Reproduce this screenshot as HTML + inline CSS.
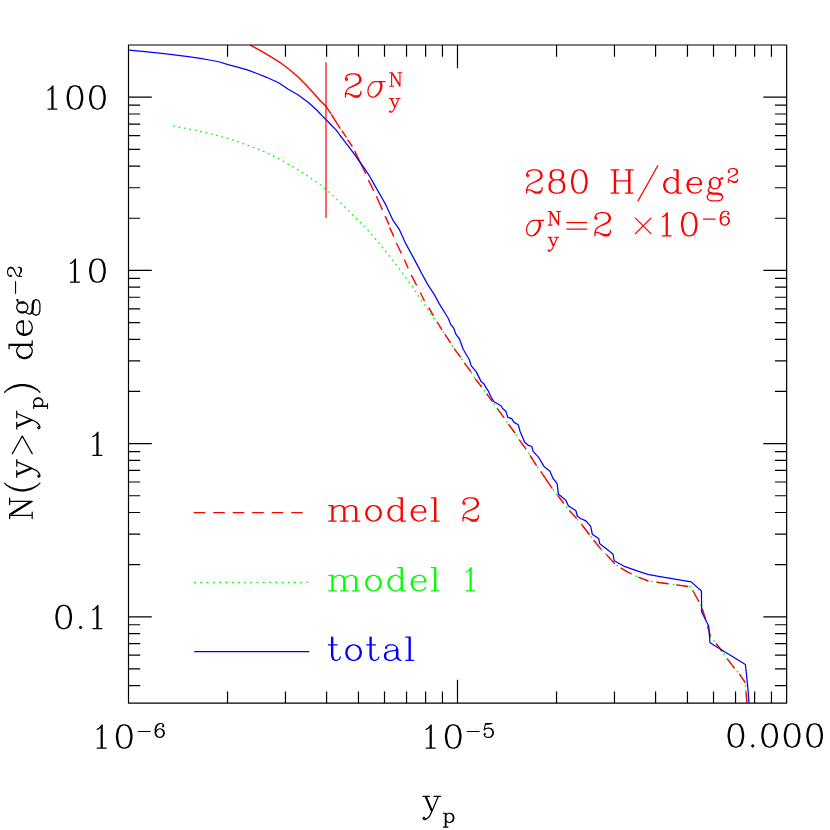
<!DOCTYPE html><html><head><meta charset="utf-8"><title>N(y&gt;y_p)</title><style>html,body{margin:0;padding:0;background:#fff;overflow:hidden;font-family:"Liberation Sans",sans-serif}svg{display:block}</style></head><body><svg width="830" height="830" viewBox="0 0 830 830"><title>N(y&gt;y_p) deg^-2 versus y_p: model 2, model 1, total; 280 H/deg^2, sigma_y^N=2 x10^-6</title><rect width="830" height="830" fill="#fff"/><path d="M173.2 125.9L183.4 128.0L195.5 130.4L203.3 132.2L214.7 134.9L225.6 137.8L234.6 140.5L244.3 143.9L256.3 148.6L264.8 151.9L273.2 155.9L284.0 161.6L294.9 168.0L305.7 174.8L316.6 182.0L320.0 184.7L326.0 189.6L331.2 193.9L342.0 204.1L354.1 216.1L366.1 228.2L378.2 242.0L390.2 257.1L398.7 268.0L403.4 274.5L411.9 285.9L420.3 298.6L426.9 308.4L432.2 316.4L437.0 322.3L442.0 329.9L444.8 334.1L450.6 343.0L454.2 348.7L460.7 357.4L464.3 362.9L470.9 371.9L475.1 378.6L481.7 387.0L486.6 393.6L492.6 402.0L497.4 408.7L504.0 417.7L508.5 424.2L515.0 433.0L519.3 439.9L525.9 448.9L530.1 455.5L536.7 465.8L541.0 471.8L552.4 488.7L557.6 495.3L563.8 503.3L569.3 510.4L576.7 518.6L581.7 524.5L589.5 534.8L593.7 540.2L601.0 549.2L606.4 554.6L614.8 563.7L620.8 567.9L626.0 571.2L631.1 573.6L634.5 575.5L638.3 577.2L648.5 581.0L656.7 582.2L668.3 583.7L676.1 584.9L688.2 586.5L691.2 586.9L693.0 591.0L699.0 601.8L702.2 608.8L705.7 619.2L707.5 626.4L710.5 636.3L711.0 637.6L716.2 643.5L722.3 651.5L727.3 658.8L734.6 668.4L739.4 673.9L745.4 682.9L745.6 684.5L746.0 691.9L746.9 702.6" fill="none" stroke="#00ff00" stroke-width="1.3" stroke-dasharray="1.7 3.8" stroke-linejoin="round"/><path d="M250.3 45.1L260.5 50.6L270.2 56.3L279.8 62.3L289.4 69.5L297.9 76.7L305.1 84.0L312.3 91.8L319.6 100.0L325.9 106.2L330.9 113.9" fill="none" stroke="#ff0000" stroke-width="1.4" stroke-linejoin="round"/><path d="M331.3 114.5L340.4 128.6L341.9 130.7L346.4 137.3L347.6 139.7L352.4 146.5L354.6 150.9L365.8 173.8L368.4 180.0L373.6 190.6L376.4 196.3L382.4 210.1L385.1 216.1L389.0 224.6L389.7 227.6L393.9 236.6L396.3 242.7L401.4 253.5L404.3 259.5L408.2 268.2L411.3 275.1L416.7 285.5L420.3 292.5L424.5 301.0L428.7 307.6L433.6 316.0L437.2 322.0L442.0 329.9L444.8 334.1L450.6 343.0L454.2 348.7L460.7 357.4L464.3 362.9L470.9 371.9L475.1 378.6L481.7 387.0L486.6 393.6L492.6 402.0L497.4 408.7L504.0 417.7L508.5 424.2L515.0 433.0L519.3 439.9L525.9 448.9L530.1 455.5L536.7 465.8L541.0 471.8L552.4 488.7L557.6 495.3L563.8 503.3L569.3 510.4L576.7 518.6L581.7 524.5L589.5 534.8L593.7 540.2L601.0 549.2L606.4 554.6L614.8 563.7L620.8 567.9L626.0 571.2L631.1 573.6L634.5 575.5L638.3 577.2L648.5 581.0L656.7 582.2L668.3 583.7L676.1 584.9L688.2 586.5L691.2 586.9L693.0 591.0L699.0 601.8L702.2 608.8L705.7 619.2L707.5 626.4L710.5 636.3L711.0 637.6L716.2 643.5L722.3 651.5L727.3 658.8L734.6 668.4L739.4 673.9L745.4 682.9L745.6 684.5L746.0 691.9L746.9 702.6" fill="none" stroke="#ff0000" stroke-width="1.4" stroke-dasharray="16.78 2.58 7.99 2.68 8.32 4.92 25.49 6.72 11.81 6.35 15.05 6.58 9.35 3.08 9.93 6.56 11.94 6.66 9.53 7.56 11.72 7.87 9.48 7.82 9.72 7.00 9.24 5.05 10.62 6.74 10.86 6.57 11.16 7.91 10.68 8.22 10.32 8.24 11.16 7.91 10.94 8.13 11.16 7.82 12.23 7.38 20.39 8.40 10.12 8.98 11.05 7.73 12.92 6.84 11.59 7.64 12.38 7.32 11.80 8.06 10.88 8.29 11.70 7.89 12.21 7.50 12.35 7.70 10.97 7.42 10.34 9.26 10.06 8.85 12.06 7.30 10.82 9.02 10.74 50.00" stroke-linejoin="round"/><path d="M128.6 50.2L140.0 51.1L152.1 52.3L164.1 53.6L176.2 55.1L188.2 56.6L200.3 58.3L212.3 60.5L219.6 62.0L228.0 64.6L237.6 67.1L247.3 69.8L256.9 73.5L266.6 77.3L278.6 82.8L288.2 89.2L297.9 94.8L308.7 102.7L317.2 110.5L322.0 115.6L325.9 119.5L331.0 124.7L336.5 130.4L340.1 135.5L343.3 139.7L348.7 146.7L354.5 154.4L359.9 162.1L364.6 168.6L369.6 176.2L374.0 184.1L378.2 191.4L383.0 199.7L385.4 204.1L392.7 219.8L399.3 229.4L405.9 243.9L413.1 257.1L419.2 268.6L420.9 272.0L427.5 284.1L434.2 294.3L439.0 303.4L445.0 313.0L448.6 319.0L450.4 323.9L454.0 328.7L455.8 334.1L459.5 339.0L463.1 349.0L469.1 359.3L471.3 365.9L476.3 371.9L481.1 381.6L483.6 383.4L486.0 387.6L488.4 391.2L491.4 397.8L494.4 402.0L501.0 405.7L502.8 408.7L505.8 411.1L507.7 417.1L511.9 418.9L513.8 422.1L518.2 424.7L520.1 431.5L524.7 442.3L528.3 445.3L531.9 446.5L533.1 451.3L538.6 457.3L544.0 466.4L550.0 471.2L553.0 478.4L557.2 483.9L558.4 494.1L565.8 500.2L568.5 506.0L575.8 510.5L577.3 516.0L580.1 518.2L585.9 520.9L590.7 526.3L592.3 534.2L598.6 538.4L599.8 543.8L613.0 554.0L614.2 560.7L625.1 566.7L637.1 570.9L647.8 574.3L660.0 576.6L691.2 581.9L701.4 591.0L701.7 612.0L708.7 626.0L710.0 642.7L745.4 664.5L747.8 687.1L749.0 702.7" fill="none" stroke="#0000ff" stroke-width="1.25" stroke-linejoin="round"/><path d="M326 62.3V218.1" stroke="#ff0000" stroke-width="1.2" fill="none"/><path d="M128.5 45.0H786.65V703.1H128.5ZM227.54 703.1v-11.7M227.54 45.0v11.7M285.47 703.1v-11.7M285.47 45.0v11.7M326.58 703.1v-11.7M326.58 45.0v11.7M358.46 703.1v-11.7M358.46 45.0v11.7M384.51 703.1v-11.7M384.51 45.0v11.7M406.54 703.1v-11.7M406.54 45.0v11.7M425.62 703.1v-11.7M425.62 45.0v11.7M442.45 703.1v-11.7M442.45 45.0v11.7M457.50 703.1v-23.3M457.50 45.0v23.3M556.54 703.1v-11.7M556.54 45.0v11.7M614.47 703.1v-11.7M614.47 45.0v11.7M655.58 703.1v-11.7M655.58 45.0v11.7M687.46 703.1v-11.7M687.46 45.0v11.7M713.51 703.1v-11.7M713.51 45.0v11.7M735.54 703.1v-11.7M735.54 45.0v11.7M754.62 703.1v-11.7M754.62 45.0v11.7M771.45 703.1v-11.7M771.45 45.0v11.7M128.5 685.72h11.7M786.65 685.72h-11.7M128.5 668.94h11.7M786.65 668.94h-11.7M128.5 655.22h11.7M786.65 655.22h-11.7M128.5 643.63h11.7M786.65 643.63h-11.7M128.5 633.58h11.7M786.65 633.58h-11.7M128.5 624.73h11.7M786.65 624.73h-11.7M128.5 616.80h23.3M786.65 616.80h-23.3M128.5 564.66h11.7M786.65 564.66h-11.7M128.5 534.16h11.7M786.65 534.16h-11.7M128.5 512.52h11.7M786.65 512.52h-11.7M128.5 495.74h11.7M786.65 495.74h-11.7M128.5 482.02h11.7M786.65 482.02h-11.7M128.5 470.43h11.7M786.65 470.43h-11.7M128.5 460.38h11.7M786.65 460.38h-11.7M128.5 451.53h11.7M786.65 451.53h-11.7M128.5 443.60h23.3M786.65 443.60h-23.3M128.5 391.46h11.7M786.65 391.46h-11.7M128.5 360.96h11.7M786.65 360.96h-11.7M128.5 339.32h11.7M786.65 339.32h-11.7M128.5 322.54h11.7M786.65 322.54h-11.7M128.5 308.82h11.7M786.65 308.82h-11.7M128.5 297.23h11.7M786.65 297.23h-11.7M128.5 287.18h11.7M786.65 287.18h-11.7M128.5 278.33h11.7M786.65 278.33h-11.7M128.5 270.40h23.3M786.65 270.40h-23.3M128.5 218.26h11.7M786.65 218.26h-11.7M128.5 187.76h11.7M786.65 187.76h-11.7M128.5 166.12h11.7M786.65 166.12h-11.7M128.5 149.34h11.7M786.65 149.34h-11.7M128.5 135.62h11.7M786.65 135.62h-11.7M128.5 124.03h11.7M786.65 124.03h-11.7M128.5 113.98h11.7M786.65 113.98h-11.7M128.5 105.13h11.7M786.65 105.13h-11.7M128.5 97.20h23.3M786.65 97.20h-23.3" fill="none" stroke="#000" stroke-width="1.2" stroke-linecap="butt" stroke-linejoin="round"/><g fill="none" stroke="#000" stroke-linecap="round" stroke-linejoin="round"><path stroke-width="1.25" d="M47.97 90.27L49.96 89.17L52.94 85.86L52.94 109.01M47.97 109.01L56.91 109.01M51.94 86.96L51.94 109.01M73.85 85.86L70.54 86.96L68.34 90.27L67.23 95.78L67.23 99.09L68.34 104.60L70.54 107.91L73.85 109.01L71.64 107.91L70.54 106.81L69.44 104.60L68.34 99.09L68.34 95.78L69.44 90.27L70.54 88.06L71.64 86.96L73.85 85.86L76.05 85.86L78.26 86.96L79.36 88.06L80.46 90.27L81.56 95.78L81.56 99.09L80.46 104.60L79.36 106.81L78.26 107.91L76.05 109.01L73.85 109.01M76.05 85.86L79.36 86.96L81.56 90.27L82.67 95.78L82.67 99.09L81.56 104.60L79.36 107.91L76.05 109.01M96.35 85.86L93.04 86.96L90.83 90.27L89.73 95.78L89.73 99.09L90.83 104.60L93.04 107.91L96.35 109.01L94.14 107.91L93.04 106.81L91.94 104.60L90.83 99.09L90.83 95.78L91.94 90.27L93.04 88.06L94.14 86.96L96.35 85.86L98.55 85.86L100.76 86.96L101.86 88.06L102.96 90.27L104.06 95.78L104.06 99.09L102.96 104.60L101.86 106.81L100.76 107.91L98.55 109.01L96.35 109.01M98.55 85.86L101.86 86.96L104.06 90.27L105.17 95.78L105.17 99.09L104.06 104.60L101.86 107.91L98.55 109.01"/></g><g fill="none" stroke="#000" stroke-linecap="round" stroke-linejoin="round"><path stroke-width="1.25" d="M70.47 263.47L72.46 262.37L75.44 259.06L75.44 282.21M70.47 282.21L79.41 282.21M74.44 260.16L74.44 282.21M96.35 259.06L93.04 260.16L90.83 263.47L89.73 268.98L89.73 272.29L90.83 277.80L93.04 281.11L96.35 282.21L94.14 281.11L93.04 280.01L91.94 277.80L90.83 272.29L90.83 268.98L91.94 263.47L93.04 261.26L94.14 260.16L96.35 259.06L98.55 259.06L100.76 260.16L101.86 261.26L102.96 263.47L104.06 268.98L104.06 272.29L102.96 277.80L101.86 280.01L100.76 281.11L98.55 282.21L96.35 282.21M98.55 259.06L101.86 260.16L104.06 263.47L105.17 268.98L105.17 272.29L104.06 277.80L101.86 281.11L98.55 282.21"/></g><g fill="none" stroke="#000" stroke-linecap="round" stroke-linejoin="round"><path stroke-width="1.25" d="M92.97 436.67L94.96 435.57L97.94 432.26L97.94 455.41M92.97 455.41L101.91 455.41M96.94 433.36L96.94 455.41"/></g><g fill="none" stroke="#000" stroke-linecap="round" stroke-linejoin="round"><path stroke-width="1.25" d="M62.60 605.46L59.29 606.56L57.09 609.87L55.98 615.38L55.98 618.69L57.09 624.20L59.29 627.51L62.60 628.61L60.39 627.51L59.29 626.41L58.19 624.20L57.09 618.69L57.09 615.38L58.19 609.87L59.29 607.66L60.39 606.56L62.60 605.46L64.80 605.46L67.01 606.56L68.11 607.66L69.21 609.87L70.31 615.38L70.31 618.69L69.21 624.20L68.11 626.41L67.01 627.51L64.80 628.61L62.60 628.61M64.80 605.46L68.11 606.56L70.31 609.87L71.42 615.38L71.42 618.69L70.31 624.20L68.11 627.51L64.80 628.61M79.47 627.51L80.58 626.41L81.68 627.51L80.58 628.61L79.47 627.51M92.97 609.87L94.96 608.77L97.94 605.46L97.94 628.61M92.97 628.61L101.91 628.61M96.94 606.56L96.94 628.61"/></g><g fill="none" stroke="#000" stroke-linecap="round" stroke-linejoin="round"><path stroke-width="1.25" d="M97.25 729.36L99.23 728.25L102.21 724.95L102.21 748.10M97.25 748.10L106.18 748.10M101.22 726.05L101.22 748.10M123.12 724.95L119.81 726.05L117.61 729.36L116.51 734.87L116.51 738.18L117.61 743.69L119.81 747.00L123.12 748.10L120.92 747.00L119.81 745.89L118.71 743.69L117.61 738.18L117.61 734.87L118.71 729.36L119.81 727.15L120.92 726.05L123.12 724.95L125.33 724.95L127.53 726.05L128.63 727.15L129.74 729.36L130.84 734.87L130.84 738.18L129.74 743.69L128.63 745.89L127.53 747.00L125.33 748.10L123.12 748.10M125.33 724.95L128.63 726.05L130.84 729.36L131.94 734.87L131.94 738.18L130.84 743.69L128.63 747.00L125.33 748.10"/><path stroke-width="1.1" d="M138.30 731.46L150.20 731.46M155.81 732.78L156.47 730.80L157.79 729.47L159.77 728.81L160.44 728.81L161.76 729.47L163.08 730.80L163.74 732.78L163.74 733.44L163.08 735.43L161.76 736.75L160.44 737.41L159.11 737.41L157.13 736.75L155.81 735.43L155.14 733.44L155.14 729.47L155.81 726.83L156.47 725.51L157.79 724.18L159.77 723.52L158.45 724.18L157.13 725.51L156.47 726.83L155.81 729.47L155.81 733.44L156.47 735.43L157.79 736.75L159.11 737.41M159.77 723.52L161.76 723.52L163.08 724.18L163.74 725.51L163.74 726.17L163.08 726.83L162.42 726.17L163.08 725.51M160.44 728.81L162.42 729.47L163.74 730.80L164.41 732.78L164.41 733.44L163.74 735.43L162.42 736.75L160.44 737.41"/></g><g fill="none" stroke="#000" stroke-linecap="round" stroke-linejoin="round"><path stroke-width="1.25" d="M426.25 729.36L428.23 728.25L431.21 724.95L431.21 748.10M426.25 748.10L435.18 748.10M430.22 726.05L430.22 748.10M452.12 724.95L448.82 726.05L446.61 729.36L445.51 734.87L445.51 738.18L446.61 743.69L448.82 747.00L452.12 748.10L449.92 747.00L448.82 745.89L447.71 743.69L446.61 738.18L446.61 734.87L447.71 729.36L448.82 727.15L449.92 726.05L452.12 724.95L454.33 724.95L456.53 726.05L457.64 727.15L458.74 729.36L459.84 734.87L459.84 738.18L458.74 743.69L457.64 745.89L456.53 747.00L454.33 748.10L452.12 748.10M454.33 724.95L457.64 726.05L459.84 729.36L460.94 734.87L460.94 738.18L459.84 743.69L457.64 747.00L454.33 748.10"/><path stroke-width="1.1" d="M467.30 731.46L479.20 731.46M484.81 734.77L485.47 734.11L484.81 733.44L484.14 734.11L484.14 734.77L484.81 736.09L485.47 736.75L487.45 737.41L489.44 737.41L490.76 736.75L492.08 735.43L492.74 733.44L492.74 732.12L492.08 730.14L490.76 728.81L489.44 728.15L487.45 728.15L485.47 728.81L484.14 730.14L485.47 723.52L492.08 723.52L488.78 724.18L485.47 724.18M489.44 728.15L491.42 728.81L492.74 730.14L493.41 732.12L493.41 733.44L492.74 735.43L491.42 736.75L489.44 737.41"/></g><g fill="none" stroke="#000" stroke-linecap="round" stroke-linejoin="round"><path stroke-width="1.25" d="M734.77 723.85L731.47 724.95L729.26 728.26L728.16 733.77L728.16 737.08L729.26 742.59L731.47 745.90L734.77 747.00L732.57 745.90L731.47 744.79L730.36 742.59L729.26 737.08L729.26 733.77L730.36 728.26L731.47 726.05L732.57 724.95L734.77 723.85L736.98 723.85L739.18 724.95L740.28 726.05L741.39 728.26L742.49 733.77L742.49 737.08L741.39 742.59L740.28 744.79L739.18 745.90L736.98 747.00L734.77 747.00M736.98 723.85L740.28 724.95L742.49 728.26L743.59 733.77L743.59 737.08L742.49 742.59L740.28 745.90L736.98 747.00M751.65 745.90L752.75 744.79L753.85 745.90L752.75 747.00L751.65 745.90M768.52 723.85L765.22 724.95L763.01 728.26L761.91 733.77L761.91 737.08L763.01 742.59L765.22 745.90L768.52 747.00L766.32 745.90L765.22 744.79L764.11 742.59L763.01 737.08L763.01 733.77L764.11 728.26L765.22 726.05L766.32 724.95L768.52 723.85L770.73 723.85L772.93 724.95L774.03 726.05L775.14 728.26L776.24 733.77L776.24 737.08L775.14 742.59L774.03 744.79L772.93 745.90L770.73 747.00L768.52 747.00M770.73 723.85L774.03 724.95L776.24 728.26L777.34 733.77L777.34 737.08L776.24 742.59L774.03 745.90L770.73 747.00M791.02 723.85L787.72 724.95L785.51 728.26L784.41 733.77L784.41 737.08L785.51 742.59L787.72 745.90L791.02 747.00L788.82 745.90L787.72 744.79L786.61 742.59L785.51 737.08L785.51 733.77L786.61 728.26L787.72 726.05L788.82 724.95L791.02 723.85L793.23 723.85L795.43 724.95L796.53 726.05L797.64 728.26L798.74 733.77L798.74 737.08L797.64 742.59L796.53 744.79L795.43 745.90L793.23 747.00L791.02 747.00M793.23 723.85L796.53 724.95L798.74 728.26L799.84 733.77L799.84 737.08L798.74 742.59L796.53 745.90L793.23 747.00M813.52 723.85L810.22 724.95L808.01 728.26L806.91 733.77L806.91 737.08L808.01 742.59L810.22 745.90L813.52 747.00L811.32 745.90L810.22 744.79L809.11 742.59L808.01 737.08L808.01 733.77L809.11 728.26L810.22 726.05L811.32 724.95L813.52 723.85L815.73 723.85L817.93 724.95L819.03 726.05L820.14 728.26L821.24 733.77L821.24 737.08L820.14 742.59L819.03 744.79L817.93 745.90L815.73 747.00L813.52 747.00M815.73 723.85L819.03 724.95L821.24 728.26L822.34 733.77L822.34 737.08L821.24 742.59L819.03 745.90L815.73 747.00M832.65 728.26L834.63 727.15L837.61 723.85L837.61 747.00M832.65 747.00L841.58 747.00M836.62 724.95L836.62 747.00"/></g><g fill="none" stroke="#000" stroke-linecap="round" stroke-linejoin="round"><path stroke-width="1.25" d="M422.92 796.37L429.53 796.37M425.12 796.37L431.74 811.80L429.53 816.21L427.33 818.41L425.12 819.52L424.02 819.52L422.92 818.41L424.02 817.31L425.12 818.41M426.23 796.37L431.74 809.59M431.74 811.80L438.35 796.37M433.94 796.37L440.56 796.37"/><path stroke-width="1.1" d="M443.34 813.23L445.99 813.23L445.99 827.12M443.34 827.12L447.97 827.12M445.32 813.23L445.32 827.12M445.99 815.21L447.31 813.89L448.63 813.23L449.95 813.23L451.28 813.89L452.60 815.21L453.26 817.20L453.26 818.52L452.60 820.50L451.28 821.83L449.95 822.49L448.63 822.49L447.31 821.83L445.99 820.50M449.95 813.23L451.94 813.89L453.26 815.21L453.92 817.20L453.92 818.52L453.26 820.50L451.94 821.83L449.95 822.49"/></g><g transform="translate(32.2 521.3) rotate(-90)" fill="none" stroke="#000" stroke-linecap="round" stroke-linejoin="round"><path stroke-width="1.25" d="M2.78 -22.57L7.06 -22.57L19.89 -2.15M2.78 0.00L9.19 0.00M5.99 -22.57L5.99 0.00M7.06 -20.42L19.89 0.00L19.89 -22.57M16.68 -22.57L23.10 -22.57M35.95 -25.36L33.75 -22.05L31.54 -17.64L30.44 -12.13L30.44 -7.72L31.54 -2.21L33.75 2.21L35.95 5.51L33.75 1.10L32.65 -2.21L31.54 -7.72L31.54 -12.13L32.65 -17.64L33.75 -20.95L35.95 -25.36L38.16 -27.56M35.95 5.51L38.16 7.72M44.04 -15.44L50.66 -15.44M46.25 -15.44L52.86 0.00L50.66 4.41L48.45 6.62L46.25 7.72L45.15 7.72L44.04 6.62L45.15 5.51L46.25 6.62M47.35 -15.44L52.86 -2.21M52.86 0.00L59.48 -15.44M55.07 -15.44L61.68 -15.44M67.68 -19.84L85.32 -9.92L67.68 0.00M92.42 -15.44L99.03 -15.44M94.62 -15.44L101.24 0.00L99.03 4.41L96.83 6.62L94.62 7.72L93.52 7.72L92.42 6.62L93.52 5.51L94.62 6.62M95.73 -15.44L101.24 -2.21M101.24 0.00L107.85 -15.44M103.44 -15.44L110.06 -15.44M129.01 -27.56L131.22 -25.36L133.42 -22.05L135.63 -17.64L136.73 -12.13L136.73 -7.72L135.63 -2.21L133.42 2.21L131.22 5.51L129.01 7.72M131.22 -25.36L133.42 -20.95L134.53 -17.64L135.63 -12.13L135.63 -7.72L134.53 -2.21L133.42 1.10L131.22 5.51M169.29 -15.44L165.98 -14.33L163.78 -12.13L162.68 -8.82L162.68 -6.62L163.78 -3.31L165.98 -1.10L169.29 0.00L167.09 -1.10L164.88 -3.31L163.78 -6.62L163.78 -8.82L164.88 -12.13L167.09 -14.33L169.29 -15.44L171.50 -15.44L173.70 -14.33L175.91 -12.13M169.29 0.00L171.50 0.00L173.70 -1.10L175.91 -3.31M172.60 -23.15L177.01 -23.15L177.01 0.00M175.91 -23.15L175.91 0.00L180.32 0.00M187.10 -8.82L187.10 -6.62L188.20 -3.31L190.41 -1.10L192.61 0.00L189.30 -1.10L187.10 -3.31L186.00 -6.62L186.00 -8.82L187.10 -12.13L189.30 -14.33L192.61 -15.44L190.41 -14.33L188.20 -12.13L187.10 -8.82L200.33 -8.82L200.33 -11.03L199.23 -13.23L198.12 -14.33L195.92 -15.44L192.61 -15.44M192.61 0.00L194.82 0.00L198.12 -1.10L200.33 -3.31M198.12 -14.33L199.23 -12.13L199.23 -8.82M207.26 -2.21L207.26 -3.31L208.36 -5.51L209.46 -6.62L208.36 -8.82L208.36 -11.03L209.46 -13.23L210.57 -14.33L209.46 -12.13L209.46 -7.72L210.57 -5.51L209.46 -6.62M207.26 -2.21L208.36 -1.10L211.67 0.00L217.18 0.00L220.49 1.10L221.59 3.31L220.49 2.21L217.18 1.10L211.67 1.10L208.36 0.00L207.26 -2.21M210.57 -14.33L212.77 -15.44L214.98 -15.44L217.18 -14.33L218.28 -13.23L219.39 -14.33L221.59 -15.44L221.59 -14.33L219.39 -14.33M210.57 -5.51L212.77 -4.41L214.98 -4.41L217.18 -5.51L218.28 -7.72L218.28 -12.13L217.18 -14.33M210.57 0.00L207.26 1.10L206.16 3.31L206.16 4.41L207.26 6.62L210.57 7.72L217.18 7.72L220.49 6.62L221.59 4.41L221.59 3.31M217.18 -5.51L218.28 -6.62L219.39 -8.82L219.39 -11.03L218.28 -13.23"/><path stroke-width="1.1" d="M112.84 1.43L115.49 1.43L115.49 15.32M112.84 15.32L117.47 15.32M114.82 1.43L114.82 15.32M115.49 3.41L116.81 2.09L118.13 1.43L119.45 1.43L120.78 2.09L122.10 3.41L122.76 5.40L122.76 6.72L122.10 8.70L120.78 10.03L119.45 10.69L118.13 10.69L116.81 10.03L115.49 8.70M119.45 1.43L121.44 2.09L122.76 3.41L123.42 5.40L123.42 6.72L122.76 8.70L121.44 10.03L119.45 10.69M227.93 -16.64L239.84 -16.64M244.78 -12.01L245.44 -12.67L246.77 -12.67L250.07 -11.35L252.06 -11.35L253.38 -12.01L254.04 -12.67L253.38 -11.35L252.72 -10.69L250.07 -10.69L246.77 -12.67M244.78 -10.69L244.78 -12.67L245.44 -14.66L246.77 -15.98L250.74 -17.96L252.72 -19.29L253.38 -20.61L253.38 -21.93L252.72 -23.26L252.06 -23.92L250.74 -24.58L248.09 -24.58L246.11 -23.92L245.44 -23.26L244.78 -21.93L244.78 -21.27L245.44 -20.61L246.11 -21.27L245.44 -21.93M248.09 -16.64L251.40 -17.96L253.38 -19.29L254.04 -20.61L254.04 -21.93L253.38 -23.26L252.72 -23.92L250.74 -24.58M254.04 -13.99L254.04 -12.67"/></g><g fill="none" stroke="#ff0000" stroke-linecap="round" stroke-linejoin="round"><path stroke-width="1.25" d="M345.43 94.80L346.54 93.69L348.74 93.69L354.25 95.90L357.56 95.90L359.76 94.80L360.87 93.69L359.76 95.90L358.66 97.00L354.25 97.00L348.74 93.69M345.43 97.00L345.43 93.69L346.54 90.39L348.74 88.18L355.36 84.87L358.66 82.67L359.76 80.46L359.76 78.26L358.66 76.05L357.56 74.95L355.36 73.85L350.94 73.85L347.64 74.95L346.54 76.05L345.43 78.26L345.43 79.36L346.54 80.46L347.64 79.36L346.54 78.26M350.94 87.08L356.46 84.87L359.76 82.67L360.87 80.46L360.87 78.26L359.76 76.05L358.66 74.95L355.36 73.85M360.87 91.49L360.87 93.69M385.03 81.68L375.11 81.68L372.90 82.23L371.03 83.55L369.38 85.75L368.27 88.40L367.94 90.94L368.16 93.25L369.05 95.24L370.59 96.56L372.68 97.11L374.78 96.78L376.76 95.79L378.75 93.91L380.29 91.49L381.39 88.84L381.95 86.20L381.72 83.99L380.95 82.45L380.07 81.68M379.19 81.68L380.29 83.11L380.84 85.09L380.73 87.52L379.96 90.16L378.64 92.81L376.76 95.02L374.78 96.78"/><path stroke-width="1.1" d="M389.69 72.77L392.26 72.77L399.96 85.02M389.69 86.31L393.54 86.31M391.62 72.77L391.62 86.31M392.26 74.06L399.96 86.31L399.96 72.77M398.03 72.77L401.88 72.77M389.48 98.43L393.45 98.43M390.80 98.43L394.77 107.69L393.45 110.33L392.12 111.66L390.80 112.32L390.14 112.32L389.48 111.66L390.14 111.00L390.80 111.66M391.46 98.43L394.77 106.36M394.77 107.69L398.74 98.43M396.09 98.43L400.06 98.43"/></g><g fill="none" stroke="#ff0000" stroke-linecap="round" stroke-linejoin="round"><path stroke-width="1.25" d="M526.63 190.89L527.74 189.79L529.94 189.79L535.45 192.00L538.76 192.00L540.97 190.89L542.07 189.79L540.97 192.00L539.86 193.10L535.45 193.10L529.94 189.79M526.63 193.10L526.63 189.79L527.74 186.48L529.94 184.28L536.56 180.97L539.86 178.77L540.97 176.56L540.97 174.36L539.86 172.15L538.76 171.05L536.56 169.95L532.15 169.95L528.84 171.05L527.74 172.15L526.63 174.36L526.63 175.46L527.74 176.56L528.84 175.46L527.74 174.36M532.15 183.18L537.66 180.97L540.97 178.77L542.07 176.56L542.07 174.36L540.97 172.15L539.86 171.05L536.56 169.95M542.07 187.59L542.07 189.79M554.65 169.95L551.34 171.05L550.24 173.25L550.24 176.56L551.34 178.77L554.65 179.87L551.34 180.97L550.24 182.07L549.13 184.28L549.13 188.69L550.24 190.89L551.34 192.00L554.65 193.10L552.44 192.00L551.34 190.89L550.24 188.69L550.24 184.28L551.34 182.07L552.44 180.97L554.65 179.87L552.44 178.77L551.34 176.56L551.34 173.25L552.44 171.05L554.65 169.95L559.06 169.95L561.26 171.05L562.36 173.25L562.36 176.56L561.26 178.77L559.06 179.87L554.65 179.87M554.65 193.10L559.06 193.10L561.26 192.00L562.36 190.89L563.47 188.69L563.47 184.28L562.36 182.07L561.26 180.97L559.06 179.87L562.36 178.77L563.47 176.56L563.47 173.25L562.36 171.05L559.06 169.95M559.06 179.87L562.36 180.97L563.47 182.07L564.57 184.28L564.57 188.69L563.47 190.89L562.36 192.00L559.06 193.10M578.25 169.95L574.94 171.05L572.74 174.36L571.63 179.87L571.63 183.18L572.74 188.69L574.94 192.00L578.25 193.10L576.04 192.00L574.94 190.89L573.84 188.69L572.74 183.18L572.74 179.87L573.84 174.36L574.94 172.15L576.04 171.05L578.25 169.95L580.45 169.95L582.66 171.05L583.76 172.15L584.86 174.36L585.97 179.87L585.97 183.18L584.86 188.69L583.76 190.89L582.66 192.00L580.45 193.10L578.25 193.10M580.45 169.95L583.76 171.05L585.97 174.36L587.07 179.87L587.07 183.18L585.97 188.69L583.76 192.00L580.45 193.10M611.08 169.95L618.79 169.95M611.08 193.10L618.79 193.10M614.38 169.95L614.38 193.10M615.49 169.95L615.49 193.10M615.49 180.97L628.72 180.97M625.41 169.95L633.12 169.95M625.41 193.10L633.12 193.10M628.72 169.95L628.72 193.10M629.82 169.95L629.82 193.10M638.05 200.82L657.90 165.54M670.34 177.66L667.03 178.77L664.83 180.97L663.73 184.28L663.73 186.48L664.83 189.79L667.03 192.00L670.34 193.10L668.14 192.00L665.93 189.79L664.83 186.48L664.83 184.28L665.93 180.97L668.14 178.77L670.34 177.66L672.55 177.66L674.75 178.77L676.96 180.97M670.34 193.10L672.55 193.10L674.75 192.00L676.96 189.79M673.65 169.95L678.06 169.95L678.06 193.10M676.96 169.95L676.96 193.10L681.37 193.10M688.15 184.28L688.15 186.48L689.25 189.79L691.46 192.00L693.66 193.10L690.35 192.00L688.15 189.79L687.05 186.48L687.05 184.28L688.15 180.97L690.35 178.77L693.66 177.66L691.46 178.77L689.25 180.97L688.15 184.28L701.38 184.28L701.38 182.07L700.28 179.87L699.17 178.77L696.97 177.66L693.66 177.66M693.66 193.10L695.87 193.10L699.17 192.00L701.38 189.79M699.17 178.77L700.28 180.97L700.28 184.28M708.31 190.89L708.31 189.79L709.41 187.59L710.51 186.48L709.41 184.28L709.41 182.07L710.51 179.87L711.62 178.77L710.51 180.97L710.51 185.38L711.62 187.59L710.51 186.48M708.31 190.89L709.41 192.00L712.72 193.10L718.23 193.10L721.54 194.20L722.64 196.41L721.54 195.31L718.23 194.20L712.72 194.20L709.41 193.10L708.31 190.89M711.62 178.77L713.82 177.66L716.03 177.66L718.23 178.77L719.33 179.87L720.44 178.77L722.64 177.66L722.64 178.77L720.44 178.77M711.62 187.59L713.82 188.69L716.03 188.69L718.23 187.59L719.33 185.38L719.33 180.97L718.23 178.77M711.62 193.10L708.31 194.20L707.21 196.41L707.21 197.51L708.31 199.72L711.62 200.82L718.23 200.82L721.54 199.72L722.64 197.51L722.64 196.41M718.23 187.59L719.33 186.48L720.44 184.28L720.44 182.07L719.33 179.87"/><path stroke-width="1.1" d="M728.28 181.09L728.94 180.43L730.27 180.43L733.57 181.75L735.56 181.75L736.88 181.09L737.54 180.43L736.88 181.75L736.22 182.41L733.57 182.41L730.27 180.43M728.28 182.41L728.28 180.43L728.94 178.44L730.27 177.12L734.24 175.14L736.22 173.81L736.88 172.49L736.88 171.17L736.22 169.84L735.56 169.18L734.24 168.52L731.59 168.52L729.61 169.18L728.94 169.84L728.28 171.17L728.28 171.83L728.94 172.49L729.61 171.83L728.94 171.17M731.59 176.46L734.90 175.14L736.88 173.81L737.54 172.49L737.54 171.17L736.88 169.84L736.22 169.18L734.24 168.52M737.54 179.10L737.54 180.43"/></g><g fill="none" stroke="#ff0000" stroke-linecap="round" stroke-linejoin="round"><path stroke-width="1.25" d="M543.63 220.48L533.71 220.48L531.50 221.03L529.63 222.35L527.98 224.55L526.87 227.20L526.54 229.74L526.76 232.05L527.65 234.04L529.19 235.36L531.28 235.91L533.38 235.58L535.36 234.59L537.35 232.71L538.89 230.29L539.99 227.64L540.55 225.00L540.33 222.79L539.55 221.25L538.67 220.48M537.79 220.48L538.89 221.91L539.44 223.89L539.33 226.32L538.56 228.96L537.24 231.61L535.36 233.82L533.38 235.58M566.85 222.57L586.70 222.57M566.85 229.19L586.70 229.19M594.93 233.59L596.03 232.49L598.24 232.49L603.75 234.70L607.06 234.70L609.26 233.59L610.37 232.49L609.26 234.70L608.16 235.80L603.75 235.80L598.24 232.49M594.93 235.80L594.93 232.49L596.03 229.19L598.24 226.98L604.86 223.67L608.16 221.47L609.26 219.26L609.26 217.06L608.16 214.85L607.06 213.75L604.86 212.65L600.45 212.65L597.14 213.75L596.03 214.85L594.93 217.06L594.93 218.16L596.03 219.26L597.14 218.16L596.03 217.06M600.45 225.88L605.96 223.67L609.26 221.47L610.37 219.26L610.37 217.06L609.26 214.85L608.16 213.75L604.86 212.65M610.37 230.29L610.37 232.49M635.44 218.16L650.88 233.59M650.88 218.16L635.44 233.59M662.30 217.06L664.28 215.96L667.26 212.65L667.26 235.80M662.30 235.80L671.23 235.80M666.27 213.75L666.27 235.80M688.17 212.65L684.87 213.75L682.66 217.06L681.56 222.57L681.56 225.88L682.66 231.39L684.87 234.70L688.17 235.80L685.97 234.70L684.87 233.59L683.76 231.39L682.66 225.88L682.66 222.57L683.76 217.06L684.87 214.85L685.97 213.75L688.17 212.65L690.38 212.65L692.58 213.75L693.68 214.85L694.79 217.06L695.89 222.57L695.89 225.88L694.79 231.39L693.68 233.59L692.58 234.70L690.38 235.80L688.17 235.80M690.38 212.65L693.68 213.75L695.89 217.06L696.99 222.57L696.99 225.88L695.89 231.39L693.68 234.70L690.38 235.80"/><path stroke-width="1.1" d="M548.29 211.57L550.86 211.57L558.56 223.82M548.29 225.11L552.14 225.11M550.22 211.57L550.22 225.11M550.86 212.86L558.56 225.11L558.56 211.57M556.63 211.57L560.48 211.57M548.08 237.23L552.05 237.23M549.40 237.23L553.37 246.49L552.05 249.13L550.72 250.46L549.40 251.12L548.74 251.12L548.08 250.46L548.74 249.80L549.40 250.46M550.06 237.23L553.37 245.16M553.37 246.49L557.34 237.23M554.69 237.23L558.66 237.23M703.35 219.16L715.25 219.16M720.86 220.48L721.52 218.50L722.84 217.17L724.82 216.51L725.49 216.51L726.81 217.17L728.13 218.50L728.79 220.48L728.79 221.14L728.13 223.13L726.81 224.45L725.49 225.11L724.16 225.11L722.18 224.45L720.86 223.13L720.19 221.14L720.19 217.17L720.86 214.53L721.52 213.21L722.84 211.88L724.82 211.22L723.50 211.88L722.18 213.21L721.52 214.53L720.86 217.17L720.86 221.14L721.52 223.13L722.84 224.45L724.16 225.11M724.82 211.22L726.81 211.22L728.13 211.88L728.79 213.21L728.79 213.87L728.13 214.53L727.47 213.87L728.13 213.21M725.49 216.51L727.47 217.17L728.79 218.50L729.46 220.48L729.46 221.14L728.79 223.13L727.47 224.45L725.49 225.11"/></g><path d="M193.7 512.6H302.7" stroke="#ff0000" stroke-width="1.2" stroke-dasharray="11.6 7.9" fill="none"/><path d="M194.1 582.4H308.6" stroke="#00ff00" stroke-width="1.3" stroke-dasharray="1.8 4.45" fill="none"/><path d="M194.3 651.6H309.3" stroke="#0000ff" stroke-width="1.2" fill="none"/><g fill="none" stroke="#ff0000" stroke-linecap="round" stroke-linejoin="round"><path stroke-width="1.25" d="M328.73 505.56L333.03 505.56L333.03 521.00M328.73 521.00L336.25 521.00M331.95 505.56L331.95 521.00M333.03 508.87L335.18 506.67L338.40 505.56L340.55 505.56L342.70 506.67L343.78 508.87L343.78 521.00M340.55 505.56L343.78 506.67L344.85 508.87L344.85 521.00M340.55 521.00L348.07 521.00M344.85 508.87L347.00 506.67L350.22 505.56L352.37 505.56L354.52 506.67L355.60 508.87L355.60 521.00M352.37 505.56L355.60 506.67L356.67 508.87L356.67 521.00M352.37 521.00L359.90 521.00M372.40 505.56L369.10 506.67L366.89 508.87L365.79 512.18L365.79 514.38L366.89 517.69L369.10 519.90L372.40 521.00L370.20 519.90L367.99 517.69L366.89 514.38L366.89 512.18L367.99 508.87L370.20 506.67L372.40 505.56L374.61 505.56L376.81 506.67L379.02 508.87L380.12 512.18L380.12 514.38L379.02 517.69L376.81 519.90L374.61 521.00L372.40 521.00M374.61 505.56L377.92 506.67L380.12 508.87L381.22 512.18L381.22 514.38L380.12 517.69L377.92 519.90L374.61 521.00M394.58 505.56L391.27 506.67L389.06 508.87L387.96 512.18L387.96 514.38L389.06 517.69L391.27 519.90L394.58 521.00L392.37 519.90L390.17 517.69L389.06 514.38L389.06 512.18L390.17 508.87L392.37 506.67L394.58 505.56L396.78 505.56L398.99 506.67L401.19 508.87M394.58 521.00L396.78 521.00L398.99 519.90L401.19 517.69M397.88 497.85L402.30 497.85L402.30 521.00M401.19 497.85L401.19 521.00L405.60 521.00M412.39 512.18L412.39 514.38L413.49 517.69L415.69 519.90L417.90 521.00L414.59 519.90L412.39 517.69L411.28 514.38L411.28 512.18L412.39 508.87L414.59 506.67L417.90 505.56L415.69 506.67L413.49 508.87L412.39 512.18L425.62 512.18L425.62 509.98L424.51 507.77L423.41 506.67L421.21 505.56L417.90 505.56M417.90 521.00L420.10 521.00L423.41 519.90L425.62 517.69M423.41 506.67L424.51 508.87L424.51 512.18M431.35 497.85L435.76 497.85L435.76 521.00M431.35 521.00L439.07 521.00M434.66 497.85L434.66 521.00M462.93 518.79L464.04 517.69L466.24 517.69L471.75 519.90L475.06 519.90L477.27 518.79L478.37 517.69L477.27 519.90L476.16 521.00L471.75 521.00L466.24 517.69M462.93 521.00L462.93 517.69L464.04 514.38L466.24 512.18L472.86 508.87L476.16 506.67L477.27 504.46L477.27 502.26L476.16 500.05L475.06 498.95L472.86 497.85L468.45 497.85L465.14 498.95L464.04 500.05L462.93 502.26L462.93 503.36L464.04 504.46L465.14 503.36L464.04 502.26M468.45 511.08L473.96 508.87L477.27 506.67L478.37 504.46L478.37 502.26L477.27 500.05L476.16 498.95L472.86 497.85M478.37 515.49L478.37 517.69"/></g><g fill="none" stroke="#00ff00" stroke-linecap="round" stroke-linejoin="round"><path stroke-width="1.25" d="M328.73 575.37L333.03 575.37L333.03 590.80M328.73 590.80L336.25 590.80M331.95 575.37L331.95 590.80M333.03 578.67L335.18 576.47L338.40 575.37L340.55 575.37L342.70 576.47L343.78 578.67L343.78 590.80M340.55 575.37L343.78 576.47L344.85 578.67L344.85 590.80M340.55 590.80L348.07 590.80M344.85 578.67L347.00 576.47L350.22 575.37L352.37 575.37L354.52 576.47L355.60 578.67L355.60 590.80M352.37 575.37L355.60 576.47L356.67 578.67L356.67 590.80M352.37 590.80L359.90 590.80M372.40 575.37L369.10 576.47L366.89 578.67L365.79 581.98L365.79 584.18L366.89 587.49L369.10 589.70L372.40 590.80L370.20 589.70L367.99 587.49L366.89 584.18L366.89 581.98L367.99 578.67L370.20 576.47L372.40 575.37L374.61 575.37L376.81 576.47L379.02 578.67L380.12 581.98L380.12 584.18L379.02 587.49L376.81 589.70L374.61 590.80L372.40 590.80M374.61 575.37L377.92 576.47L380.12 578.67L381.22 581.98L381.22 584.18L380.12 587.49L377.92 589.70L374.61 590.80M394.58 575.37L391.27 576.47L389.06 578.67L387.96 581.98L387.96 584.18L389.06 587.49L391.27 589.70L394.58 590.80L392.37 589.70L390.17 587.49L389.06 584.18L389.06 581.98L390.17 578.67L392.37 576.47L394.58 575.37L396.78 575.37L398.99 576.47L401.19 578.67M394.58 590.80L396.78 590.80L398.99 589.70L401.19 587.49M397.88 567.65L402.30 567.65L402.30 590.80M401.19 567.65L401.19 590.80L405.60 590.80M412.39 581.98L412.39 584.18L413.49 587.49L415.69 589.70L417.90 590.80L414.59 589.70L412.39 587.49L411.28 584.18L411.28 581.98L412.39 578.67L414.59 576.47L417.90 575.37L415.69 576.47L413.49 578.67L412.39 581.98L425.62 581.98L425.62 579.77L424.51 577.57L423.41 576.47L421.21 575.37L417.90 575.37M417.90 590.80L420.10 590.80L423.41 589.70L425.62 587.49M423.41 576.47L424.51 578.67L424.51 581.98M431.35 567.65L435.76 567.65L435.76 590.80M431.35 590.80L439.07 590.80M434.66 567.65L434.66 590.80M466.17 572.06L468.16 570.95L471.14 567.65L471.14 590.80M466.17 590.80L475.11 590.80M470.14 568.75L470.14 590.80"/></g><g fill="none" stroke="#0000ff" stroke-linecap="round" stroke-linejoin="round"><path stroke-width="1.25" d="M328.29 644.87L337.11 644.87M331.60 637.15L331.60 655.89L332.70 659.20L334.91 660.30L333.80 659.20L332.70 655.89L332.70 637.15M334.91 660.30L337.11 660.30L339.32 659.20L340.42 656.99M352.49 644.87L349.18 645.97L346.98 648.17L345.88 651.48L345.88 653.68L346.98 656.99L349.18 659.20L352.49 660.30L350.29 659.20L348.08 656.99L346.98 653.68L346.98 651.48L348.08 648.17L350.29 645.97L352.49 644.87L354.70 644.87L356.90 645.97L359.11 648.17L360.21 651.48L360.21 653.68L359.11 656.99L356.90 659.20L354.70 660.30L352.49 660.30M354.70 644.87L358.00 645.97L360.21 648.17L361.31 651.48L361.31 653.68L360.21 656.99L358.00 659.20L354.70 660.30M366.77 644.87L375.59 644.87M370.07 637.15L370.07 655.89L371.18 659.20L373.38 660.30L372.28 659.20L371.18 655.89L371.18 637.15M373.38 660.30L375.59 660.30L377.79 659.20L378.89 656.99M386.73 647.07L386.73 648.17L385.62 648.17L385.62 647.07L386.73 645.97L388.93 644.87L393.34 644.87L395.55 645.97L396.65 647.07L396.65 656.99L394.44 659.20L392.24 660.30L388.93 660.30L385.62 659.20L384.52 656.99L384.52 654.79L385.62 652.58L388.93 651.48L386.73 652.58L385.62 654.79L385.62 656.99L386.73 659.20L388.93 660.30M388.93 651.48L395.55 650.38L396.65 649.27M396.65 647.07L397.75 649.27L397.75 656.99L398.85 659.20L399.96 660.30L397.75 659.20L396.65 656.99M399.96 660.30L401.06 660.30M405.82 637.15L410.23 637.15L410.23 660.30M405.82 660.30L413.53 660.30M409.12 637.15L409.12 660.30"/></g></svg></body></html>
